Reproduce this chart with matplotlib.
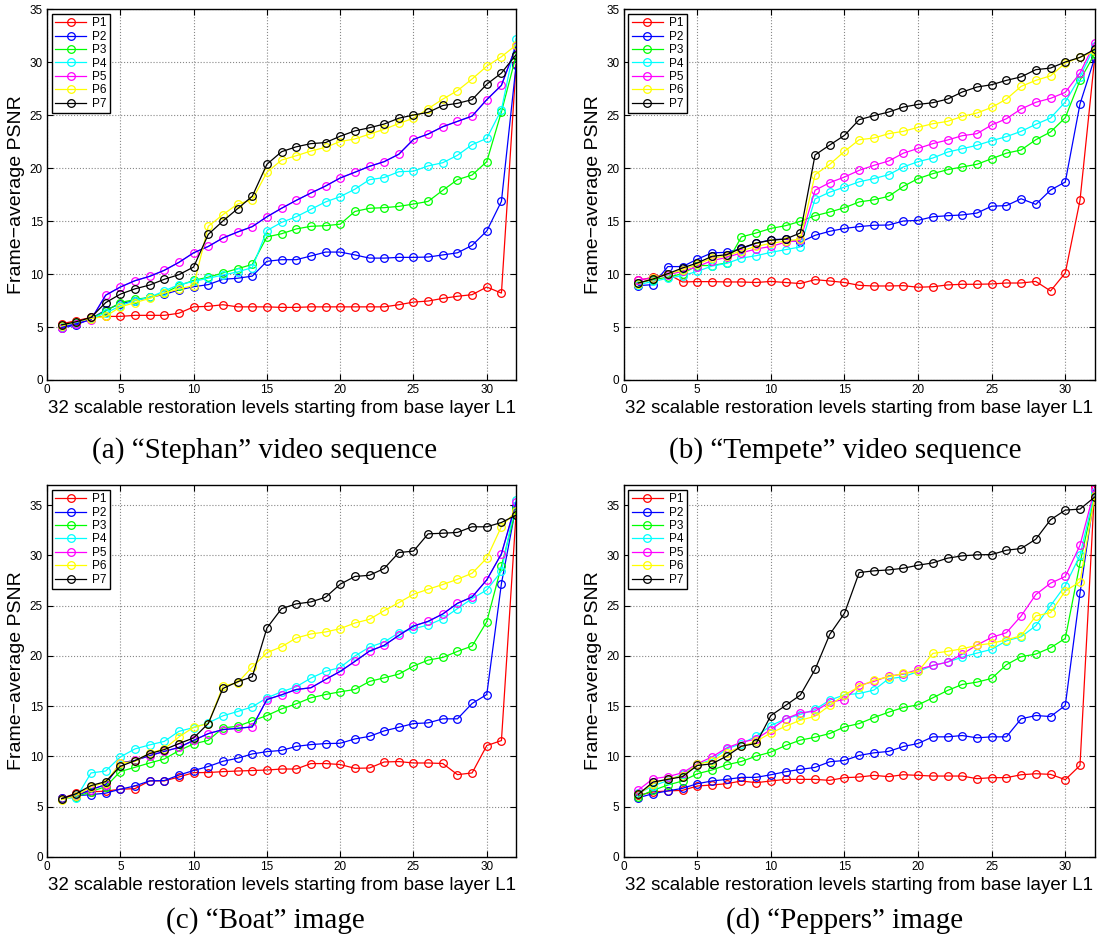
import matplotlib
matplotlib.use('Agg')
import matplotlib.pyplot as plt
import numpy as np

# restoration levels L1..L32
levels = np.arange(1, 33)
series_names = ['P1', 'P2', 'P3', 'P4', 'P5', 'P6', 'P7']
series_colors = ['#ff0000', '#0000ff', '#00ff00', '#00ffff', '#ff00ff', '#ffff00', '#000000']

# (a) Stephan
stephan_p1 = [5.3, 5.6, 5.9, 6.0, 6.0, 6.1, 6.1, 6.1, 6.3, 6.9, 6.95, 7.1, 6.9, 6.9, 6.9, 6.85,
              6.85, 6.9, 6.9, 6.9, 6.9, 6.9, 6.9, 7.1, 7.35, 7.45, 7.7, 7.9, 8.05, 8.77, 8.2, 29.8]
stephan_p2 = [4.9, 5.2, 5.8, 6.6, 7.2, 7.5, 7.8, 8.07, 8.5, 8.8, 9.0, 9.5, 9.6, 9.8, 11.2, 11.35,
              11.35, 11.7, 12.07, 12.07, 11.8, 11.5, 11.5, 11.57, 11.57, 11.6, 11.8, 12.0, 12.7, 14.06, 16.86, 29.7]
stephan_p3 = [5.0, 5.4, 5.8, 6.5, 7.3, 7.6, 7.8, 8.2, 8.9, 9.4, 9.7, 10.1, 10.5, 10.9, 13.5, 13.8,
              14.25, 14.5, 14.56, 14.7, 15.9, 16.2, 16.26, 16.38, 16.6, 16.85, 17.9, 18.9, 19.34, 20.6, 25.3, 30.6]
stephan_p4 = [5.0, 5.4, 5.8, 6.3, 7.0, 7.5, 7.8, 8.4, 9.0, 9.3, 9.6, 9.9, 10.2, 10.6, 14.1, 14.87,
              15.4, 16.1, 16.8, 17.3, 18.0, 18.9, 19.1, 19.65, 19.7, 20.2, 20.5, 21.2, 22.2, 22.8, 25.5, 32.2]
stephan_p5 = [4.95, 5.3, 5.7, 8.0, 8.77, 9.37, 9.78, 10.35, 11.1, 12.0, 12.6, 13.4, 13.96, 14.47, 15.4, 16.2,
              16.95, 17.64, 18.3, 19.06, 19.6, 20.16, 20.6, 21.3, 22.7, 23.2, 23.9, 24.4, 24.9, 26.45, 27.8, 31.5]
stephan_p6 = [5.1, 5.5, 5.8, 6.0, 6.9, 7.3, 7.7, 8.2, 8.6, 8.9, 14.5, 15.6, 16.6, 17.0, 19.6, 20.75,
              21.16, 21.6, 21.95, 22.5, 22.74, 23.2, 23.65, 24.2, 24.7, 25.6, 26.5, 27.3, 28.4, 29.6, 30.5, 31.6]
stephan_p7 = [5.2, 5.5, 5.9, 7.3, 8.1, 8.6, 8.96, 9.5, 9.94, 10.66, 13.74, 15.0, 16.16, 17.33, 20.35, 21.54,
              22.0, 22.3, 22.4, 23.0, 23.5, 23.8, 24.15, 24.7, 25.0, 25.25, 25.9, 26.1, 26.45, 27.9, 28.96, 30.7]

# (b) Tempete
tempete_p1 = [9.4, 9.7, 10.0, 9.25, 9.28, 9.28, 9.25, 9.25, 9.2, 9.3, 9.2, 9.1, 9.47, 9.34, 9.2, 8.93,
              8.87, 8.87, 8.9, 8.75, 8.8, 8.97, 9.03, 9.03, 9.06, 9.15, 9.15, 9.3, 8.4, 10.1, 16.95, 30.4]
tempete_p2 = [8.9, 9.0, 10.7, 10.7, 11.4, 12.0, 12.04, 12.4, 12.9, 13.24, 13.3, 13.0, 13.65, 14.03, 14.3, 14.47,
              14.6, 14.62, 15.0, 15.06, 15.4, 15.5, 15.57, 15.75, 16.4, 16.45, 17.1, 16.57, 17.92, 18.68, 26.04, 30.4]
tempete_p3 = [9.15, 9.47, 9.7, 10.03, 10.8, 10.8, 11.04, 13.5, 13.87, 14.3, 14.56, 14.97, 15.5, 15.85, 16.25, 16.8,
              17.0, 17.33, 18.27, 19.0, 19.47, 19.84, 20.1, 20.35, 20.88, 21.4, 21.7, 22.67, 23.4, 24.75, 28.27, 30.8]
tempete_p4 = [9.0, 9.3, 9.6, 9.84, 10.25, 10.75, 11.0, 11.5, 11.73, 12.04, 12.3, 12.55, 17.08, 17.72, 18.2, 18.7,
              19.0, 19.37, 20.1, 20.6, 20.94, 21.5, 21.82, 22.14, 22.58, 22.96, 23.46, 24.12, 24.72, 26.23, 28.6, 31.5]
tempete_p5 = [9.47, 9.6, 9.94, 10.25, 10.7, 11.26, 11.57, 12.0, 12.36, 12.6, 13.0, 13.18, 17.9, 18.62, 19.15, 19.78,
              20.25, 20.66, 21.4, 21.85, 22.3, 22.64, 23.05, 23.24, 24.06, 24.65, 25.57, 26.2, 26.57, 27.14, 28.96, 31.8]
tempete_p6 = [9.1, 9.6, 10.0, 10.4, 10.9, 11.5, 11.7, 12.2, 12.6, 12.9, 13.1, 13.3, 19.37, 20.35, 21.57, 22.67,
              22.83, 23.24, 23.46, 23.84, 24.18, 24.4, 24.87, 25.19, 25.72, 26.5, 27.7, 28.27, 28.7, 29.9, 30.44, 31.0]
tempete_p7 = [9.15, 9.53, 10.03, 10.57, 11.04, 11.67, 11.82, 12.45, 12.92, 13.18, 13.3, 13.87, 21.23, 22.17, 23.08, 24.56,
              24.94, 25.28, 25.75, 26.0, 26.16, 26.5, 27.17, 27.64, 27.86, 28.27, 28.6, 29.28, 29.43, 30.0, 30.44, 31.2]

# (c) Boat
boat_p1 = [5.82, 6.35, 6.48, 6.55, 6.74, 6.8, 7.57, 7.57, 7.96, 8.39, 8.4, 8.49, 8.55, 8.6, 8.65, 8.75,
           8.75, 9.29, 9.29, 9.2, 8.82, 8.85, 9.45, 9.49, 9.35, 9.35, 9.3, 8.19, 8.36, 11.08, 11.58, 34.2]
boat_p2 = [5.82, 6.1, 6.2, 6.35, 6.74, 7.07, 7.57, 7.6, 8.15, 8.6, 9.0, 9.52, 9.82, 10.25, 10.48, 10.6,
           11.0, 11.18, 11.28, 11.31, 11.74, 12.0, 12.54, 12.9, 13.27, 13.34, 13.74, 13.74, 15.27, 16.16, 27.2, 34.9]
boat_p3 = [5.8, 6.0, 6.5, 7.0, 8.5, 8.92, 9.35, 9.75, 10.58, 11.25, 11.6, 12.84, 13.0, 13.54, 14.07, 14.73,
           15.23, 15.83, 16.16, 16.43, 16.66, 17.46, 17.82, 18.19, 18.99, 19.58, 19.85, 20.45, 20.98, 23.4, 28.95, 34.6]
boat_p4 = [5.8, 5.9, 8.36, 8.55, 9.95, 10.75, 11.15, 11.5, 12.5, 12.87, 13.34, 14.04, 14.47, 14.93, 15.83, 16.43,
           16.93, 17.79, 18.46, 18.85, 19.98, 20.88, 21.38, 22.3, 22.7, 23.07, 23.7, 24.7, 25.7, 26.56, 28.42, 35.53]
boat_p5 = [5.8, 6.1, 6.7, 7.2, 9.35, 9.6, 10.08, 10.5, 10.9, 11.6, 12.27, 12.67, 12.8, 12.94, 15.66, 16.13,
           16.66, 16.83, 17.66, 18.46, 19.45, 20.48, 21.05, 22.04, 22.97, 23.44, 24.17, 25.23, 25.86, 27.56, 30.15, 35.27]
boat_p6 = [5.7, 6.1, 7.0, 7.4, 9.35, 9.5, 10.35, 10.75, 11.94, 12.9, 13.27, 17.0, 17.33, 18.9, 20.32, 20.91,
           21.78, 22.18, 22.38, 22.71, 23.27, 23.64, 24.5, 25.3, 26.13, 26.63, 27.1, 27.62, 28.22, 29.72, 32.87, 34.4]
boat_p7 = [5.8, 6.3, 7.1, 7.5, 9.02, 9.58, 10.28, 10.68, 11.28, 11.84, 13.27, 16.76, 17.43, 17.92, 22.77, 24.7,
           25.17, 25.37, 25.83, 27.13, 27.9, 28.02, 28.69, 30.28, 30.42, 32.14, 32.2, 32.28, 32.84, 32.84, 33.27, 34.0]

# (d) Peppers
peppers_p1 = [6.14, 6.47, 6.57, 6.63, 7.06, 7.16, 7.29, 7.56, 7.39, 7.56, 7.72, 7.72, 7.72, 7.62, 7.89, 7.95,
              8.12, 7.99, 8.18, 8.12, 8.05, 8.05, 8.05, 7.79, 7.89, 7.89, 8.18, 8.28, 8.22, 7.69, 9.1, 36.9]
peppers_p2 = [5.9, 6.3, 6.57, 6.83, 7.29, 7.56, 7.72, 7.92, 7.92, 8.18, 8.48, 8.71, 8.91, 9.47, 9.6, 10.1,
              10.36, 10.5, 10.99, 11.29, 11.95, 11.95, 12.08, 11.85, 11.95, 11.95, 13.74, 14.07, 13.97, 15.07, 26.23, 36.2]
peppers_p3 = [6.0, 6.63, 7.16, 7.56, 8.28, 8.65, 9.17, 9.5, 10.03, 10.43, 11.09, 11.62, 11.91, 12.28, 12.94, 13.27,
              13.87, 14.4, 14.87, 15.13, 15.83, 16.56, 17.16, 17.39, 17.76, 19.12, 19.92, 20.18, 20.81, 21.74, 29.2, 36.0]
peppers_p4 = [6.34, 7.06, 7.62, 8.22, 9.2, 9.68, 10.75, 11.28, 12.0, 13.07, 13.74, 14.17, 14.67, 15.6, 16.13, 16.26,
              16.6, 17.73, 17.92, 18.45, 19.05, 19.38, 19.88, 20.28, 20.65, 21.5, 21.9, 23.0, 25.0, 27.0, 30.0, 36.3]
peppers_p5 = [6.67, 7.79, 7.99, 8.38, 9.27, 9.95, 10.85, 11.4, 11.74, 12.67, 13.74, 14.34, 14.5, 15.4, 15.66, 17.06,
              17.46, 17.99, 18.19, 18.65, 19.05, 19.38, 20.18, 21.08, 21.84, 22.31, 23.97, 26.1, 27.23, 27.9, 31.0, 36.6]
peppers_p6 = [6.24, 7.29, 7.79, 8.05, 9.22, 9.52, 10.35, 11.0, 11.5, 12.34, 13.0, 13.6, 14.0, 15.07, 16.13, 16.93,
              17.59, 17.92, 18.26, 18.45, 20.25, 20.45, 20.71, 21.05, 21.25, 21.6, 22.0, 23.97, 24.3, 26.46, 27.36, 35.9]
peppers_p7 = [6.24, 7.46, 7.72, 7.99, 9.1, 9.27, 10.03, 11.02, 11.29, 14.07, 15.07, 16.1, 18.65, 22.14, 24.24, 28.29,
              28.46, 28.55, 28.72, 29.02, 29.25, 29.72, 29.95, 30.05, 30.08, 30.51, 30.68, 31.61, 33.54, 34.5, 34.6, 35.8]

sans = 'Liberation Sans'
serif = 'Liberation Serif'

fig = plt.figure(figsize=(10.99, 9.5), dpi=100)

panels = [
    # data, caption, y top, P5 drawn with a blue line, axes rect, caption x/y
    ([stephan_p1, stephan_p2, stephan_p3, stephan_p4, stephan_p5, stephan_p6, stephan_p7],
     '(a) \u201cStephan\u201d video sequence', 35, True, [0.0428, 0.600, 0.4268, 0.3905], (0.2411, 0.5255)),
    ([tempete_p1, tempete_p2, tempete_p3, tempete_p4, tempete_p5, tempete_p6, tempete_p7],
     '(b) \u201cTempete\u201d video sequence', 35, False, [0.5675, 0.600, 0.4286, 0.3905], (0.7689, 0.5255)),
    ([boat_p1, boat_p2, boat_p3, boat_p4, boat_p5, boat_p6, boat_p7],
     '(c) \u201cBoat\u201d image', 37, True, [0.0428, 0.0979, 0.4268, 0.3916], (0.2411, 0.0315)),
    ([peppers_p1, peppers_p2, peppers_p3, peppers_p4, peppers_p5, peppers_p6, peppers_p7],
     '(d) \u201cPeppers\u201d image', 37, False, [0.5675, 0.0979, 0.4286, 0.3916], (0.7689, 0.0315)),
]

for data, caption, ytop, blue_p5, rect, cap_xy in panels:
    ax = fig.add_axes(rect)
    for name, color, vals in zip(series_names, series_colors, data):
        ax.plot(levels, vals, '-', color=color, lw=0.9, marker='o', ms=5.5,
                mfc='none', mec=color, mew=0.9, label=name)
        if name == 'P5' and blue_p5:
            # the original figure draws the P5 connecting line in blue
            ax.plot(levels, vals, '-', color='#0000ff', lw=0.9)
    ax.set_xlim(0, 32)
    ax.set_ylim(0, ytop)
    ax.set_xticks(np.arange(0, 31, 5))
    ax.set_yticks(np.arange(0, 36, 5))
    ax.grid(True, linestyle=':', color='#888888', linewidth=0.8)
    ax.tick_params(direction='in', top=True, right=True, length=4, width=0.8,
                   labelsize=8.5, pad=3)
    for lbl in ax.get_xticklabels() + ax.get_yticklabels():
        lbl.set_family(sans)
    for sp in ax.spines.values():
        sp.set_linewidth(1.0)
    ax.set_xlabel('32 scalable restoration levels starting from base layer L1',
                  family=sans, fontsize=13.5, labelpad=3)
    ax.set_ylabel('Frame\u2212average PSNR', family=sans, fontsize=14, labelpad=3)
    leg = ax.legend(loc='upper left', fancybox=False, edgecolor='black',
                    framealpha=1, prop={'family': sans, 'size': 8.5},
                    handlelength=2.6, handletextpad=0.5, labelspacing=0.12,
                    borderpad=0.3, borderaxespad=0.4, numpoints=1)
    leg.get_frame().set_linewidth(1.0)
    fig.text(cap_xy[0], cap_xy[1], caption, family=serif, fontsize=21,
             ha='center', va='center')

fig.savefig('out.png', dpi=100)
